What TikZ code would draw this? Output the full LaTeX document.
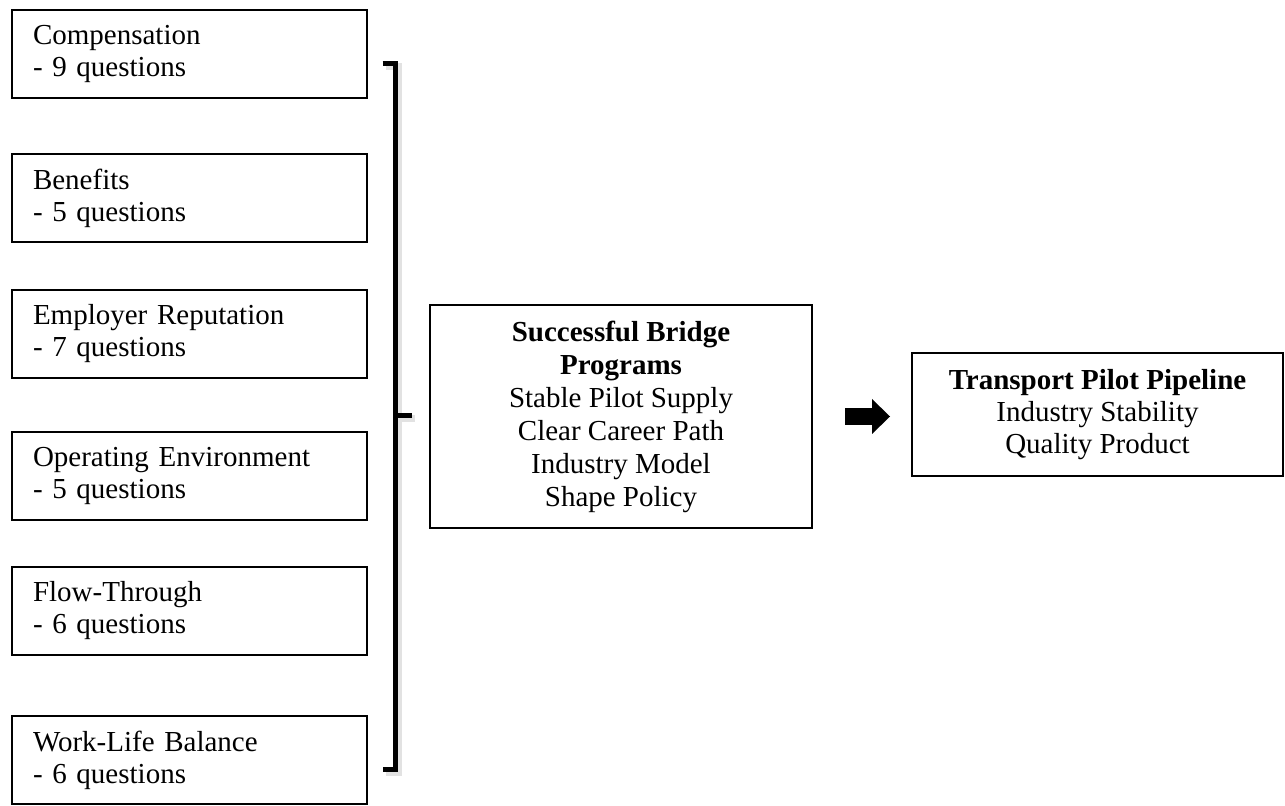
\documentclass[tikz,border=0pt]{standalone}
\usepackage{fontspec}
\setmainfont{Liberation Serif}
\usetikzlibrary{arrows.meta,positioning}
\definecolor{Ink}{HTML}{000000}
\definecolor{Shade}{HTML}{8C8C8C}
\tikzset{
 factor/.style={draw=Ink, line width=0.7pt, outer sep=0pt, text width=156.5pt, inner xsep=10.5pt, inner ysep=2pt, minimum height=44pt, align=left, font=\fontsize{14.5pt}{16pt}\selectfont},
 outcome/.style={draw=Ink, line width=0.7pt, outer sep=0pt, align=center, inner sep=0pt, font=\fontsize{14.5pt}{16.5pt}\selectfont},
 brace/.style={draw=Ink, line width=2.5pt},
 braceshade/.style={brace, draw=Shade, opacity=0.25, line width=3.5pt, transform canvas={shift={(1.5pt,-1.5pt)}}},
 bigarrow/.style={draw=Ink, line width=8.5pt, -{Triangle[length=9pt,width=17.5pt,line width=0pt]}}
}
\begin{document}
\begin{tikzpicture}[x=1pt,y=1pt]
\useasboundingbox (0,0) rectangle (642.5,-403);
% survey factors
\node[factor,anchor=north west] (comp) at (6,-5) {Compensation\\- 9 questions};
\node[factor,below=28pt of comp] (bene) {Benefits\\- 5 questions};
\node[factor,below=24pt of bene] (repu) {Employer Reputation\\- 7 questions};
\node[factor,below=27pt of repu] (oper) {Operating Environment\\- 5 questions};
\node[factor,below=23.5pt of oper] (flow) {Flow-Through\\- 6 questions};
\node[factor,below=30.5pt of flow] (work) {Work-Life Balance\\- 6 questions};
% outcomes
\node[outcome,minimum width=191pt,minimum height=111.5pt] (bridge) at (310.5,-208.25) {\textbf{Successful Bridge}\\\textbf{Programs}\\Stable Pilot Supply\\Clear Career Path\\Industry Model\\Shape Policy};
\node[outcome,minimum width=185.5pt,minimum height=61.5pt,right=50pt of bridge,yshift=1pt,font=\fontsize{14.5pt}{16pt}\selectfont] (pipe) {\textbf{Transport Pilot Pipeline}\\Industry Stability\\Quality Product};
% bracket
\coordinate (btop) at (197.5,-32);\coordinate (bbot) at (197.5,-384.5);\coordinate (bmid) at (197.5,-208);
\draw[braceshade] (btop) ++(-6.25,0) -- (btop) -- (bbot) -- ++(-6.25,0) (bmid) -- ++(8.5,0);
\draw[brace] (btop) ++(-6.25,0) -- (btop) -- (bbot) -- ++(-6.25,0) (bmid) -- ++(8.5,0);
% arrow
\coordinate[right=16.5pt of bridge.east] (a1);\coordinate[left=11pt of pipe.west] (a2);
\draw[bigarrow] (a1) -- (a1 -| a2);
\end{tikzpicture}
\end{document}
